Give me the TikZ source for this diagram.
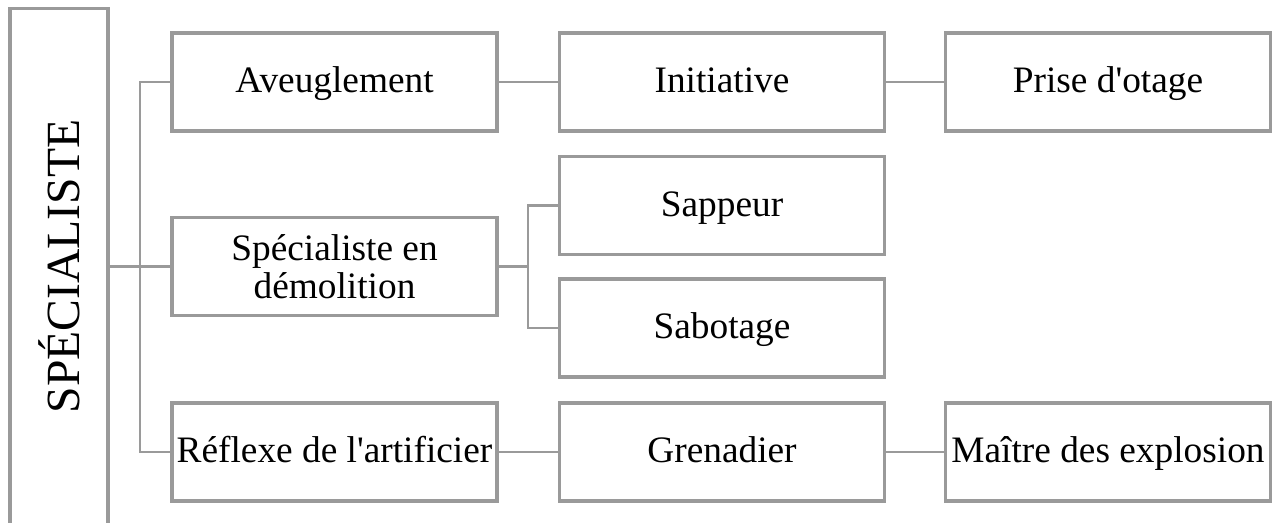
\documentclass[tikz,border=0pt]{standalone}
\usepackage{fontspec}
\setmainfont{Liberation Serif}[Ligatures=TeXOff]
\definecolor{linegray}{HTML}{9A9A9A}
\begin{document}
\begin{tikzpicture}[x=0.75pt, y=-0.75pt,
  boxbase/.style={draw=linegray, line width=2.4pt, fill=white, rectangle,
    minimum width=243.75pt, minimum height=73.5pt, inner sep=0pt,
    align=center, font=\fontsize{28pt}{28.5pt}\selectfont},
  box/.style={boxbase, text height=22.4pt, text depth=5.9pt},
  rootbox/.style={draw=linegray, line width=2.4pt, rectangle, rotate=90,
    minimum width=387pt, minimum height=73.5pt, inner sep=0pt,
    font=\fontsize{35.7pt}{38pt}\selectfont},
  conn/.style={draw=linegray, line width=1.6pt}]
\useasboundingbox (0,0) rectangle (1277,523);
% root column
\node[rootbox] (root) at (59,266.5) {SPÉCIALISTE};
% first column
\node[box] (a1) at (334.5,82) {Aveuglement};
\node[boxbase] (b1) at (334.5,266.5) {Spécialiste en\\démolition};
\node[box] (c1) at (334.5,452) {Réflexe de l'artificier};
% second column
\node[box] (a2) at (722,82) {Initiative};
\node[box] (b2a) at (722,205.5) {Sappeur};
\node[box] (b2b) at (722,328) {Sabotage};
\node[box] (c2) at (722,452) {Grenadier};
% third column
\node[box] (a3) at (1108,82) {Prise d'otage};
\node[box] (c3) at (1108,452) {Maître des explosion};
% junctions
\coordinate (j1) at (140,266.5);
\coordinate (j2) at (528,266.5);
% connectors
\draw[conn] (root.south) -- (j1);
\draw[conn] (a1.west) -| (j1) |- (c1.west);
\draw[conn] (j1) -- (b1.west);
\draw[conn] (b1.east) -- (j2);
\draw[conn] (b2a.west) -| (j2) |- (b2b.west);
\draw[conn] (a1.east) -- (a2.west);
\draw[conn] (a2.east) -- (a3.west);
\draw[conn] (c1.east) -- (c2.west);
\draw[conn] (c2.east) -- (c3.west);
\end{tikzpicture}
\end{document}
